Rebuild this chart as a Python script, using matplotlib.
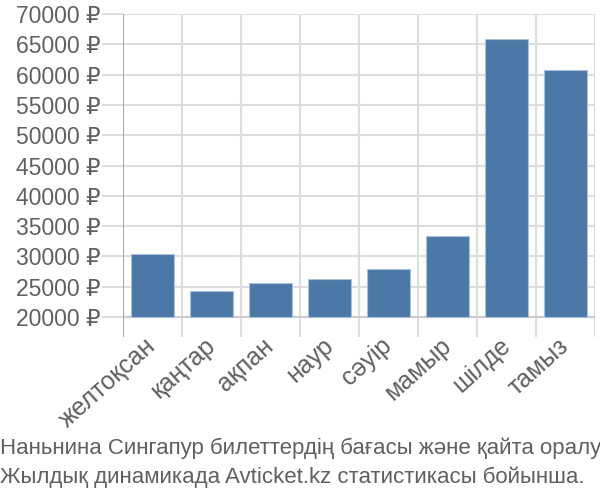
import matplotlib
matplotlib.use("Agg")
import matplotlib.pyplot as plt
from matplotlib.ticker import FuncFormatter

plt.rcParams['font.family'] = ['Liberation Sans', 'DejaVu Sans']

months = ["желтоқсан", "қаңтар", "ақпан", "наур", "сәуір", "мамыр", "шілде", "тамыз"]
prices = [30400, 24300, 25600, 26300, 27900, 33400, 65900, 60700]
baseline = 20000
yticks = [20000, 25000, 30000, 35000, 40000, 45000, 50000, 55000, 60000, 65000, 70000]
caption = ("Наньнина Сингапур билеттердің бағасы және қайта оралу\n"
           "Жылдық динамикада Avticket.kz статистикасы бойынша.")

fig = plt.figure(figsize=(6, 5), dpi=100)
ax = fig.add_axes([0.205, 0.326, 0.787, 0.646])

x = list(range(len(months)))
ax.bar(x, [p - baseline for p in prices], bottom=baseline, width=0.72,
       color="#4c78a8", edgecolor="#a9c1dc", linewidth=0.8, zorder=3)

ax.set_xlim(-0.5, len(months) - 0.5)
ax.set_ylim(16700, 70000)
ax.set_yticks(yticks)
ax.yaxis.set_major_formatter(FuncFormatter(lambda v, p: f"{int(v)} ₽"))

# vertical gridlines at category boundaries
for b in range(len(months) + 1):
    ax.axvline(b - 0.5, color="#dddddd", linewidth=1.5, zorder=1)
ax.axvline(-0.5, color="#aaaaaa", linewidth=1.5, zorder=4)
for t in yticks:
    ax.axhline(t, color="#dddddd", linewidth=1.5, zorder=1)
ax.axhline(baseline, color="#cccccc", linewidth=1.5, zorder=2)

for s in ax.spines.values():
    s.set_visible(False)

ax.set_xticks(x)
ax.set_xticklabels(months, rotation=42, ha="right", va="center", rotation_mode="anchor",
                   fontsize=18, color="#606060")
ax.tick_params(axis="x", length=0, pad=4)
ax.tick_params(axis="y", length=15, color="#dddddd", width=1.5, labelsize=16.5,
               labelcolor="#606060", pad=1)

fig.text(0.0, 0.025, caption, fontsize=16, color="#606060", ha="left", va="bottom",
         linespacing=1.45)

fig.savefig("out.png", dpi=100)
